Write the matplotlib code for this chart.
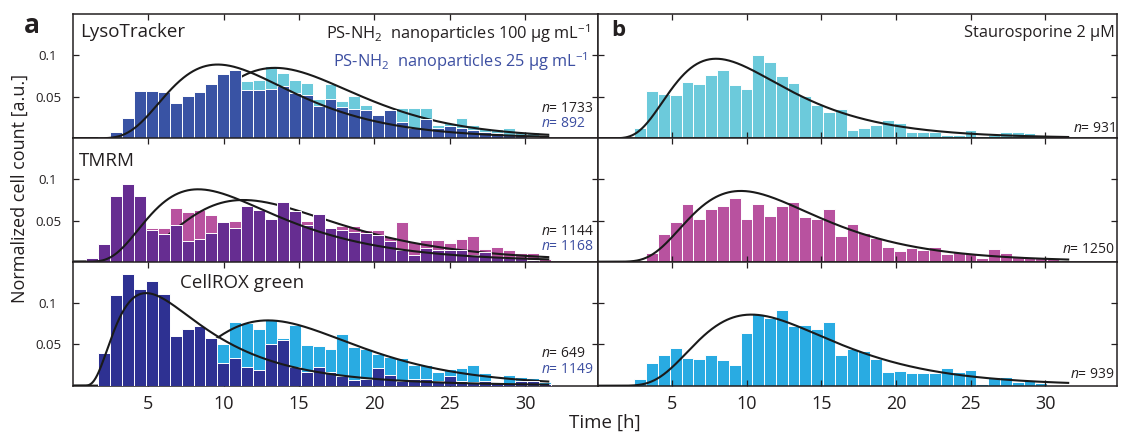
import numpy as np
import matplotlib
matplotlib.use("Agg")
import matplotlib.pyplot as plt

plt.rcParams["font.family"] = ["Open Sans", "DejaVu Sans"]
plt.rcParams["mathtext.fontset"] = "custom"
plt.rcParams["mathtext.rm"] = "Open Sans"
plt.rcParams["mathtext.it"] = "Open Sans:italic"
plt.rcParams["mathtext.bf"] = "Open Sans:bold"

# ---------------- data ----------------
# histogram bins (time of death, hours)
bin_start = 0.89
bin_width = 0.79
n_bins = 39

# panel a: PS-NH2 nanoparticles, 25 ug/mL (dark) and 100 ug/mL (light)
lyso_25 = [0, 0.002, 0.007, 0.025, 0.057, 0.057, 0.056, 0.043, 0.051, 0.056,
           0.065, 0.077, 0.082, 0.058, 0.058, 0.060, 0.063, 0.055, 0.052, 0.039,
           0.047, 0.038, 0.035, 0.034, 0.028, 0.034, 0.020, 0.012, 0.023, 0.012,
           0.015, 0.012, 0.010, 0.007, 0.006, 0.004, 0.004, 0.002, 0]
lyso_100 = [0, 0, 0.002, 0.005, 0.010, 0.015, 0.020, 0.025, 0.030, 0.040,
            0.045, 0.055, 0.065, 0.069, 0.070, 0.087, 0.079, 0.070, 0.067, 0.048,
            0.066, 0.045, 0.051, 0.040, 0.026, 0.030, 0.036, 0.036, 0.036, 0.016,
            0.018, 0.025, 0.016, 0.013, 0.011, 0.012, 0.008, 0.007, 0.002]
tmrm_25 = [0.005, 0.021, 0.080, 0.095, 0.080, 0.038, 0.034, 0.045, 0.025, 0.027,
           0.035, 0.048, 0.041, 0.068, 0.063, 0.052, 0.073, 0.062, 0.045, 0.058,
           0.041, 0.038, 0.036, 0.035, 0.032, 0.025, 0.014, 0.008, 0.017, 0.014,
           0.014, 0.014, 0.008, 0.012, 0.006, 0.004, 0.004, 0.002, 0]
tmrm_100 = [0, 0.002, 0.005, 0.010, 0.020, 0.041, 0.041, 0.065, 0.061, 0.063,
            0.057, 0.045, 0.049, 0.060, 0.060, 0.050, 0.060, 0.055, 0.050, 0.050,
            0.041, 0.043, 0.043, 0.038, 0.039, 0.030, 0.048, 0.024, 0.026, 0.026,
            0.023, 0.028, 0.031, 0.016, 0.018, 0.014, 0.010, 0.011, 0.003]
cellrox_25 = [0, 0.040, 0.110, 0.135, 0.117, 0.127, 0.111, 0.060, 0.068, 0.072,
              0.058, 0.027, 0.033, 0.023, 0.019, 0.050, 0.055, 0.023, 0.017, 0.023,
              0.017, 0.012, 0.007, 0.008, 0.021, 0.013, 0.006, 0.008, 0.008, 0.006,
              0.012, 0.006, 0.004, 0.006, 0.003, 0.002, 0.006, 0.006, 0.002]
cellrox_100 = [0, 0, 0.002, 0.004, 0.008, 0.012, 0.018, 0.025, 0.035, 0.045,
               0.050, 0.051, 0.077, 0.076, 0.069, 0.079, 0.058, 0.074, 0.049, 0.048,
               0.045, 0.063, 0.047, 0.044, 0.038, 0.035, 0.033, 0.025, 0.025, 0.017,
               0.020, 0.022, 0.025, 0.015, 0.004, 0.013, 0.011, 0.009, 0.004]

# panel b: staurosporine 2 uM
stauro_lyso = [0, 0, 0.013, 0.057, 0.053, 0.052, 0.068, 0.066, 0.076, 0.083,
               0.064, 0.059, 0.100, 0.092, 0.075, 0.067, 0.051, 0.040, 0.032, 0.035,
               0.010, 0.013, 0.016, 0.022, 0.018, 0.008, 0.008, 0.008, 0.004, 0.004,
               0.010, 0.003, 0.004, 0.008, 0.008, 0.006, 0.003, 0.002, 0]
stauro_tmrm = [0, 0.002, 0, 0.010, 0.034, 0.048, 0.070, 0.052, 0.064, 0.068,
               0.077, 0.052, 0.070, 0.056, 0.068, 0.073, 0.054, 0.052, 0.064, 0.031,
               0.046, 0.035, 0.029, 0.018, 0.013, 0.017, 0.014, 0.018, 0.009, 0.012,
               0.011, 0.005, 0.015, 0.010, 0.006, 0.004, 0.006, 0.003, 0]
stauro_cellrox = [0, 0, 0.008, 0.027, 0.037, 0.046, 0.034, 0.032, 0.037, 0.031,
                  0.025, 0.064, 0.087, 0.082, 0.091, 0.072, 0.073, 0.068, 0.077, 0.037,
                  0.045, 0.042, 0.032, 0.017, 0.018, 0.015, 0.015, 0.015, 0.022, 0.016,
                  0.019, 0.002, 0.010, 0.010, 0.004, 0.007, 0.003, 0, 0]

# log-normal fits: (peak height, mode [h], log-width, onset [h])
fit_lyso_25 = (0.089, 9.6, 0.43, 0.0)
fit_lyso_100 = (0.085, 13.4, 0.35, 0.0)
fit_tmrm_25 = (0.088, 8.3, 0.51, 0.0)
fit_tmrm_100 = (0.075, 11.3, 0.45, 0.0)
fit_cellrox_25 = (0.112, 4.85, 0.657, 0.5)
fit_cellrox_100 = (0.079, 12.93, 0.38, 0.0)
fit_stauro_lyso = (0.096, 7.94, 0.48, 0.0)
fit_stauro_tmrm = (0.086, 9.6, 0.45, 0.0)
fit_stauro_cellrox = (0.086, 10.3, 0.44, 0.0)
fit_range = (0.02, 31.6)

n_cells_a = [("1733", "892"), ("1144", "1168"), ("649", "1149")]
n_cells_b = ["931", "1250", "939"]

row_titles = ["LysoTracker", "TMRM", "CellROX green"]
x_ticks = [5, 10, 15, 20, 25, 30]
y_ticks = [0.05, 0.1]
y_ticklabels = ["0.05", "0.1"]

# ---------------- style ----------------
c_lyso_dark, c_lyso_light = "#3953a4", "#6ccadb"
c_tmrm_dark, c_tmrm_light = "#662d91", "#b8529f"
c_cell_dark, c_cell_light = "#2e3192", "#29abe2"
c_text = "#231f20"
c_blue_text = "#3c4ea1"

W, H = 1121, 432
fig = plt.figure(figsize=(W / 100, H / 100), dpi=100)


def px(x, y):
    return x / W, 1 - y / H


edges = bin_start + bin_width * np.arange(n_bins)


def fit_curve(params):
    peak, mode, s, onset = params
    t = np.linspace(fit_range[0], fit_range[1], 600)
    u = np.clip(t - onset, 1e-6, None)
    y = peak * np.exp(-np.log(u / (mode - onset)) ** 2 / (2 * s ** 2))
    return t, y


left_x, left_w = 73, 524.5
right_x, right_w = 597.5, 519.5
rows = [(14, 138.3), (138.3, 261.7), (261.7, 385.7)]


def make_axes(x0, w, r):
    top, bot = rows[r]
    l, b = px(x0, bot)
    ax = fig.add_axes([l, b, w / W, (bot - top) / H])
    ax.set_xlim(0, 34.8)
    ax.set_ylim(0, 0.15)
    ax.set_xticks(x_ticks)
    ax.set_yticks(y_ticks)
    ax.tick_params(direction="in", length=4, width=0.9, top=True, right=True,
                   color="#231f20")
    for sp in ax.spines.values():
        sp.set_linewidth(1.1)
        sp.set_color("#231f20")
    if r < 2:
        ax.tick_params(labelbottom=False)
    else:
        ax.set_xticklabels([str(v) for v in x_ticks], fontsize=13, color=c_text)
        ax.tick_params(axis="x", pad=7)
    return ax


def bars(ax, vals, color, zorder):
    ax.bar(edges, vals, width=bin_width, align="edge", color=color,
           edgecolor="white", linewidth=0.7, zorder=zorder)


def curve(ax, params, zorder):
    t, y = fit_curve(params)
    ax.plot(t, y, color="#1a1a1a", lw=1.5, zorder=zorder, solid_capstyle="butt")


left_sets = [(lyso_25, lyso_100, fit_lyso_25, fit_lyso_100, c_lyso_dark, c_lyso_light),
             (tmrm_25, tmrm_100, fit_tmrm_25, fit_tmrm_100, c_tmrm_dark, c_tmrm_light),
             (cellrox_25, cellrox_100, fit_cellrox_25, fit_cellrox_100, c_cell_dark, c_cell_light)]
right_sets = [(stauro_lyso, fit_stauro_lyso, c_lyso_light),
              (stauro_tmrm, fit_stauro_tmrm, c_tmrm_light),
              (stauro_cellrox, fit_stauro_cellrox, c_cell_light)]

for r in range(3):
    dark, light, fdark, flight, cd, cl = left_sets[r]
    ax = make_axes(left_x, left_w, r)
    bars(ax, light, cl, 1)
    curve(ax, flight, 2)
    bars(ax, dark, cd, 3)
    curve(ax, fdark, 4)
    ax.set_yticklabels(y_ticklabels, fontsize=9.5, color=c_text, ha="center")
    ax.tick_params(axis="y", pad=18)

    vals, fit, c = right_sets[r]
    axr = make_axes(right_x, right_w, r)
    bars(axr, vals, c, 1)
    curve(axr, fit, 4)
    axr.tick_params(labelleft=False)

# panel titles
title_pos = [(80.5, 37.3), (79.3, 166), (180, 288)]
for (x, y), t in zip(title_pos, row_titles):
    fig.text(*px(x, y), t, fontsize=13.5, color=c_text, ha="left", va="baseline")

fig.text(*px(590, 39.3), r"PS-NH$_2$  nanoparticles 100 µg mL$^{-1}$",
         fontsize=11.8, color=c_text, ha="right", va="baseline")
fig.text(*px(588, 66.7), r"PS-NH$_2$  nanoparticles 25 µg mL$^{-1}$",
         fontsize=11.8, color=c_blue_text, ha="right", va="baseline")
fig.text(*px(1115, 36.7), "Staurosporine 2 µM", fontsize=11.8, color=c_text,
         ha="right", va="baseline")

# cell counts
n_base_a = [(111.7, 126.7), (235, 250), (356.7, 373)]
for (y1, y2), (n1, n2) in zip(n_base_a, n_cells_a):
    fig.text(*px(540.7, y1), r"$\mathit{n}$= " + n1, fontsize=10, color=c_text,
             ha="left", va="baseline")
    fig.text(*px(540.7, y2), r"$\mathit{n}$= " + n2, fontsize=10, color=c_blue_text,
             ha="left", va="baseline")
n_base_b = [131.7, 252.7, 378]
for y, n in zip(n_base_b, n_cells_b):
    fig.text(*px(1115, y), r"$\mathit{n}$= " + n, fontsize=10, color=c_text,
             ha="right", va="baseline")

# panel letters
fig.text(*px(24, 33), "a", fontsize=19, fontweight="bold", color=c_text,
         ha="left", va="baseline")
fig.text(*px(611, 36), "b", fontsize=16, fontweight="bold", color=c_text,
         ha="left", va="baseline")

# axis labels
fig.text(*px(20, 188), "Normalized cell count [a.u.]", fontsize=13, color=c_text,
         rotation=90, ha="center", va="center")
fig.text(*px(605, 423), "Time [h]", fontsize=13.5, color=c_text,
         ha="center", va="center")

fig.savefig("out.png", dpi=100)
